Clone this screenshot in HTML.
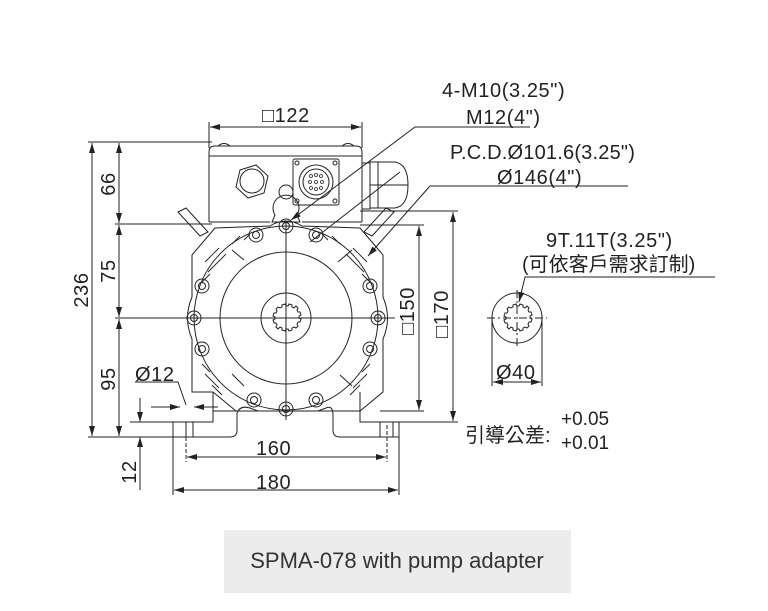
<!DOCTYPE html>
<html><head><meta charset="utf-8"><style>
html,body{margin:0;padding:0;background:#fff;}
svg{display:block}
text{font-family:"Liberation Sans","Noto Sans CJK TC",sans-serif;fill:#222}
</style></head><body>
<svg width="768" height="611" viewBox="0 0 768 611" xmlns="http://www.w3.org/2000/svg">
<defs>
<marker id="a" viewBox="0 0 10 6" refX="10" refY="3" markerWidth="10" markerHeight="6" orient="auto-start-reverse" markerUnits="userSpaceOnUse"><path d="M0,0 L10,3 L0,6 z" fill="#222"/></marker>
</defs>
<g stroke="#222" fill="none" stroke-width="1">
<line x1="88" y1="142" x2="212" y2="142"/>
<line x1="88" y1="437" x2="180" y2="437"/>
<line x1="115" y1="224" x2="212" y2="224"/>
<line x1="115" y1="318" x2="200" y2="318"/>
<line x1="130" y1="422" x2="175" y2="422"/>
<line x1="360" y1="211" x2="458" y2="211"/>
<line x1="360" y1="225" x2="424" y2="225"/>
<line x1="380" y1="411" x2="424" y2="411"/>
<line x1="398" y1="422" x2="458" y2="422"/>
<line x1="209" y1="122" x2="209" y2="148"/>
<line x1="362" y1="122" x2="362" y2="148"/>
<line x1="186" y1="425" x2="186" y2="462" stroke-dasharray="4,2"/>
<line x1="387" y1="425" x2="387" y2="462" stroke-dasharray="4,2"/>
<line x1="173" y1="437" x2="173" y2="495"/>
<line x1="399" y1="437" x2="399" y2="495"/>
<line x1="92" y1="143" x2="92" y2="436" marker-start="url(#a)" marker-end="url(#a)"/>
<line x1="119" y1="143" x2="119" y2="223" marker-start="url(#a)" marker-end="url(#a)"/>
<line x1="119" y1="225" x2="119" y2="317" marker-start="url(#a)" marker-end="url(#a)"/>
<line x1="119" y1="319" x2="119" y2="436" marker-start="url(#a)" marker-end="url(#a)"/>
<line x1="140" y1="398" x2="140" y2="422" marker-end="url(#a)"/>
<line x1="140" y1="490" x2="140" y2="437" marker-end="url(#a)"/>
<line x1="210" y1="127" x2="361" y2="127" marker-start="url(#a)" marker-end="url(#a)"/>
<line x1="187" y1="457" x2="386" y2="457" marker-start="url(#a)" marker-end="url(#a)"/>
<line x1="174" y1="490" x2="398" y2="490" marker-start="url(#a)" marker-end="url(#a)"/>
<line x1="419" y1="226" x2="419" y2="410" marker-start="url(#a)" marker-end="url(#a)"/>
<line x1="453" y1="212" x2="453" y2="421" marker-start="url(#a)" marker-end="url(#a)"/>
<line x1="151" y1="407" x2="180" y2="407" marker-end="url(#a)"/>
<line x1="218" y1="407" x2="194" y2="407" marker-end="url(#a)"/>
<polyline points="135,382 178,382 186,405"/>
<line x1="415" y1="127" x2="530" y2="127"/>
<line x1="415" y1="127" x2="291" y2="220" marker-end="url(#a)"/>
<line x1="430" y1="186" x2="628" y2="186"/>
<line x1="430" y1="186" x2="368" y2="256" marker-end="url(#a)"/>
<line x1="310" y1="242" x2="400" y2="172"/>
<path d="M209,222 L209,152 Q209,146 215,146 L356,146 Q362,146 362,152 L362,222"/>
<line x1="209" y1="156" x2="362" y2="156"/>
<path d="M218,146 q6,-5 12,0 M342,146 q6,-5 12,0"/>
<line x1="209" y1="222" x2="270" y2="222"/><line x1="302" y1="222" x2="362" y2="222"/>
<polygon points="240,170 256,165 268,176 264,193 248,198 236,187" />
<circle cx="252" cy="181" r="12"/>
<rect x="293" y="159" width="46" height="46" rx="2"/>
<circle cx="316" cy="182" r="17"/><circle cx="316" cy="182" r="13"/>
<circle cx="297" cy="163" r="2"/><circle cx="335" cy="163" r="2"/><circle cx="297" cy="201" r="2"/><circle cx="335" cy="201" r="2"/>
<g stroke-width="0.8"><circle cx="311" cy="176" r="1.5"/><circle cx="316" cy="175" r="1.5"/><circle cx="321" cy="176" r="1.5"/><circle cx="310" cy="182" r="1.5"/><circle cx="316" cy="182" r="1.5"/><circle cx="322" cy="182" r="1.5"/><circle cx="311" cy="188" r="1.5"/><circle cx="316" cy="189" r="1.5"/><circle cx="321" cy="188" r="1.5"/></g>
<path d="M275,215 A13,13 0 1 1 297,215 L300,222 L272,222 Z"/>
<circle cx="286" cy="192" r="7"/>
<rect x="362" y="163" width="8" height="46"/>
<path d="M370,162 L395,162 Q408,164 408,185 Q408,206 395,208 L370,208 Z"/>
<line x1="378" y1="162" x2="378" y2="208"/><line x1="370" y1="185" x2="408" y2="185"/>
<path d="M178,212 l8,-4 l22,24 l-8,4 z"/>
<path d="M394,212 l-8,-4 l-22,24 l8,4 z"/>
<path d="M192,255 L215,228 L270,226 Q286,216 302,226 L360,228 L383,255 L383,297 Q392,318 383,339 L383,392 L360,411 L236,411 L213,392 L192,392 L192,339 Q183,318 192,297 Z"/>
<circle cx="286" cy="318" r="92"/>
<circle cx="286" cy="318" r="66"/>
<circle cx="286" cy="318" r="25"/>
<path d="M286,306 l2,0 l1,-2 l3,1 l0,2 l2,1 l2,-2 l2,2 l-1,2 l1,2 l2,0 l1,3 l-2,1 l0,2 l2,1 l-1,3 l-2,0 l-1,2 l1,2 l-2,2 l-2,-1 l-2,1 l0,2 l-3,1 l-1,-2 l-2,0 l-1,2 l-3,-1 l0,-2 l-2,-1 l-2,2 l-2,-2 l1,-2 l-1,-2 l-2,0 l-1,-3 l2,-1 l0,-2 l-2,-1 l1,-3 l2,0 l1,-2 l-1,-2 l2,-2 l2,1 l2,-1 l0,-2 l3,-1 z"/>
<line x1="286" y1="222" x2="286" y2="420"/>
<line x1="180" y1="318" x2="395" y2="318"/>
<line x1="244" y1="260" x2="232" y2="250"/><line x1="338" y1="262" x2="352" y2="250"/>
<line x1="232" y1="374" x2="244" y2="386"/><line x1="340" y1="375" x2="352" y2="386"/>
<g>
<circle cx="286" cy="226" r="7"/><circle cx="286" cy="226" r="3.5"/>
<circle cx="256" cy="235" r="7"/><circle cx="256" cy="235" r="3.5"/>
<circle cx="316" cy="235" r="7"/><circle cx="316" cy="235" r="3.5"/>
<circle cx="202" cy="286" r="7"/><circle cx="202" cy="286" r="3.5"/>
<circle cx="370" cy="286" r="7"/><circle cx="370" cy="286" r="3.5"/>
<circle cx="194" cy="318" r="7"/><circle cx="194" cy="318" r="3.5"/>
<circle cx="378" cy="318" r="7"/><circle cx="378" cy="318" r="3.5"/>
<circle cx="202" cy="349" r="7"/><circle cx="202" cy="349" r="3.5"/>
<circle cx="370" cy="349" r="7"/><circle cx="370" cy="349" r="3.5"/>
<circle cx="254" cy="400" r="7"/><circle cx="254" cy="400" r="3.5"/>
<circle cx="316" cy="400" r="7"/><circle cx="316" cy="400" r="3.5"/>
<circle cx="286" cy="409" r="7"/><circle cx="286" cy="409" r="3.5"/>
</g>
<g stroke-width="0.9">
<path d="M205,262 l14,-14 M208,272 l18,-18 M202,282 l8,-8 M232,244 l8,-8 M244,240 l6,-6"/>
<path d="M367,262 l-14,-14 M364,272 l-18,-18 M370,282 l-8,-8 M340,244 l-8,-8 M328,240 l-6,-6"/>
<path d="M205,374 l14,14 M202,364 l8,8 M212,385 l10,10"/>
<path d="M367,374 l-14,14 M370,364 l-8,8 M360,385 l-10,10"/>
</g>
<path d="M173,422 L213,422 L213,392 M173,422 L173,437 L230,437 Q237,437 237,430 L237,413 Q240,405 250,408 L258,411"/>
<path d="M318,411 L326,408 Q333,405 333,415 L333,430 Q333,437 340,437 L399,437 L399,422 L360,422 L360,392"/>
<line x1="213" y1="411" x2="237" y2="411"/><line x1="333" y1="411" x2="360" y2="411"/>
<line x1="186" y1="422" x2="186" y2="437"/><line x1="193" y1="422" x2="193" y2="437"/>
<line x1="380" y1="422" x2="380" y2="437"/><line x1="393" y1="422" x2="393" y2="437"/>
<circle cx="517" cy="318" r="25"/>
<path d="M517,306 l2,0 l1,-2 l3,1 l0,2 l2,1 l2,-2 l2,2 l-1,2 l1,2 l2,0 l1,3 l-2,1 l0,2 l2,1 l-1,3 l-2,0 l-1,2 l1,2 l-2,2 l-2,-1 l-2,1 l0,2 l-3,1 l-1,-2 l-2,0 l-1,2 l-3,-1 l0,-2 l-2,-1 l-2,2 l-2,-2 l1,-2 l-1,-2 l-2,0 l-1,-3 l2,-1 l0,-2 l-2,-1 l1,-3 l2,0 l1,-2 l-1,-2 l2,-2 l2,1 l2,-1 l0,-2 l3,-1 z"/>
<line x1="487" y1="318" x2="547" y2="318" stroke-dasharray="8,3,2,3"/>
<line x1="517" y1="290" x2="517" y2="348" stroke-dasharray="8,3,2,3"/>
<line x1="492" y1="318" x2="492" y2="386"/><line x1="542" y1="318" x2="542" y2="386"/>
<line x1="493" y1="382" x2="541" y2="382" marker-start="url(#a)" marker-end="url(#a)"/>
<polyline points="715,277 525,277 519,302" marker-end="url(#a)"/>
</g>
<g font-size="20" letter-spacing="0.6">
<text x="262" y="122">□122</text>
<text x="442" y="97">4-M10(3.25")</text>
<text x="466" y="124">M12(4")</text>
<text x="450" y="159" letter-spacing="0.2">P.C.D.Ø101.6(3.25")</text>
<text x="497" y="184">Ø146(4")</text>
<text x="546" y="247">9T.11T(3.25")</text>
<text x="522" y="271" letter-spacing="0">(可依客戶需求訂制)</text>
<text x="135" y="381">Ø12</text>
<text x="496" y="379">Ø40</text>
<text x="256" y="455">160</text>
<text x="256" y="489">180</text>
<text x="465" y="442" letter-spacing="0">引導公差:</text>
<text x="561" y="425" font-size="19" letter-spacing="0">+0.05</text>
<text x="561" y="449" font-size="19" letter-spacing="0">+0.01</text>
<text transform="translate(88,290) rotate(-90)" text-anchor="middle">236</text>
<text transform="translate(115,184) rotate(-90)" text-anchor="middle">66</text>
<text transform="translate(115,271) rotate(-90)" text-anchor="middle">75</text>
<text transform="translate(115,379) rotate(-90)" text-anchor="middle">95</text>
<text transform="translate(136,472) rotate(-90)" text-anchor="middle">12</text>
<text transform="translate(414,311) rotate(-90)" text-anchor="middle">□150</text>
<text transform="translate(448,314) rotate(-90)" text-anchor="middle">□170</text>
</g>
<rect x="224" y="530" width="347" height="63" fill="#ececec"/>
<text x="397" y="568" font-size="22" text-anchor="middle" style="fill:#333">SPMA-078 with pump adapter</text>
</svg>
</body></html>
